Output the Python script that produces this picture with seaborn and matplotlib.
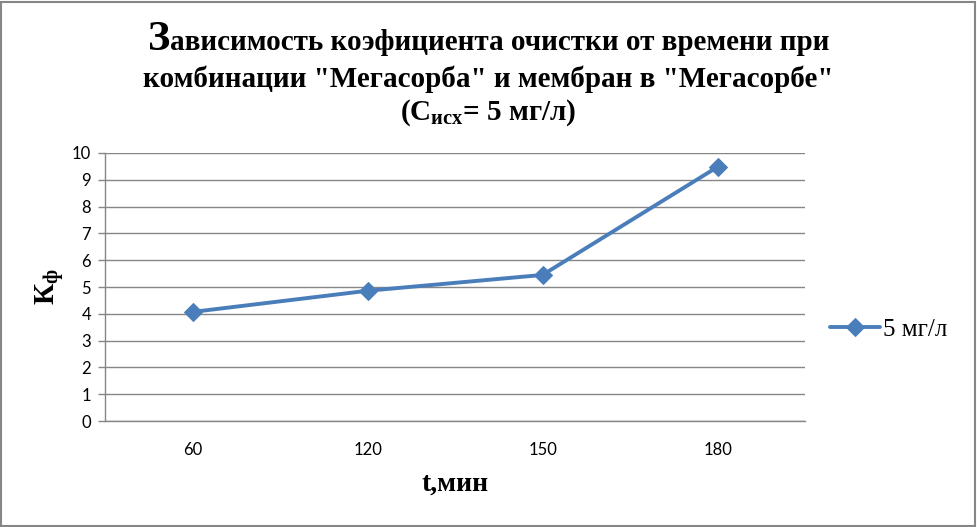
import matplotlib
matplotlib.use('Agg')
import matplotlib.pyplot as plt
import seaborn as sns
import pandas as pd

# data
times = ['60', '120', '150', '180']
k_values = [4.07, 4.86, 5.45, 9.48]
series_name = '5 мг/л'

title_first = 'З'
title_lines = [
    'ависимость коэфициента очистки от времени при',
    'комбинации "Мегасорба" и мембран в "Мегасорбе"',
    r'(C$_{\mathbf{исх}}$= 5 мг/л)',
]


def main():
    sns.set_theme(style='white')
    plt.rcParams['font.family'] = ['Liberation Serif', 'DejaVu Serif']
    plt.rcParams['text.color'] = 'black'
    plt.rcParams['axes.labelcolor'] = 'black'
    plt.rcParams['mathtext.fontset'] = 'custom'
    plt.rcParams['mathtext.rm'] = 'Liberation Serif:bold'
    plt.rcParams['mathtext.bf'] = 'Liberation Serif:bold'
    plt.rcParams['mathtext.it'] = 'Liberation Serif:bold'

    df = pd.DataFrame({'t': times, 'k': k_values, 'series': series_name})

    fig = plt.figure(figsize=(9.77, 5.27), dpi=100)
    ax = fig.add_axes([0.1075, 0.2011, 0.7165, 0.5086])

    line_color = '#4A7EBB'
    sns.lineplot(data=df, x='t', y='k', hue='series', palette=[line_color],
                 marker='D', markersize=9, linewidth=2.8,
                 markeredgecolor=line_color, ax=ax, sort=False)

    ax.set_xlim(-0.5, len(times) - 0.5)
    ax.set_ylim(0, 10)
    ax.set_yticks(range(0, 11))
    ax.grid(axis='y', color='#868686', linewidth=1)
    ax.grid(axis='x', visible=False)

    for side in ['top', 'right']:
        ax.spines[side].set_visible(False)
    for side in ['left', 'bottom']:
        ax.spines[side].set_color('#868686')
        ax.spines[side].set_linewidth(1)

    ax.tick_params(axis='y', which='major', direction='out', length=5,
                   width=1, color='#868686', left=True, pad=5)
    ax.tick_params(axis='x', length=0, pad=15)
    for lbl in ax.get_xticklabels() + ax.get_yticklabels():
        lbl.set_family(['Lato', 'DejaVu Sans'])
        lbl.set_fontsize(12)
        lbl.set_color('#000000')

    ax.set_xlabel('t,мин', fontsize=20, fontweight='bold', labelpad=10)
    ax.set_ylabel(r'К$_{\mathbf{ф}}$', fontsize=21, fontweight='bold', labelpad=4)

    # title: first letter drawn larger, rest of line beside it
    fs = 21
    renderer = fig.canvas.get_renderer()
    big = fig.text(0, 0.905, title_first, ha='left', va='baseline',
                   fontsize=fs * 1.45, fontweight='bold')
    rest = fig.text(0, 0.905, title_lines[0], ha='left', va='baseline',
                    fontsize=fs, fontweight='bold')
    w_big = big.get_window_extent(renderer).width / fig.bbox.width
    w_rest = rest.get_window_extent(renderer).width / fig.bbox.width
    x0 = 0.5 - (w_big + w_rest) / 2
    big.set_x(x0)
    rest.set_x(x0 + w_big)

    fig.text(0.5, 0.85, title_lines[1], ha='center', va='center',
             fontsize=fs, fontweight='bold')
    fig.text(0.5, 0.786, title_lines[2], ha='center', va='center',
             fontsize=fs, fontweight='bold')

    leg = ax.legend(loc='center left', bbox_to_anchor=(1.0, 0.34),
                    frameon=False, fontsize=18, handlelength=2.0,
                    handletextpad=0.1, borderaxespad=0.6)
    for txt in leg.get_texts():
        txt.set_family(['Liberation Serif', 'DejaVu Serif'])

    # grey outer border like the spreadsheet chart area
    fig.patches.append(plt.Rectangle((0.001, 0.002), 0.997, 0.995,
                                     transform=fig.transFigure, fill=False,
                                     edgecolor='#868686', linewidth=1.5))

    fig.savefig('out.png', dpi=100)


if __name__ == '__main__':
    main()
